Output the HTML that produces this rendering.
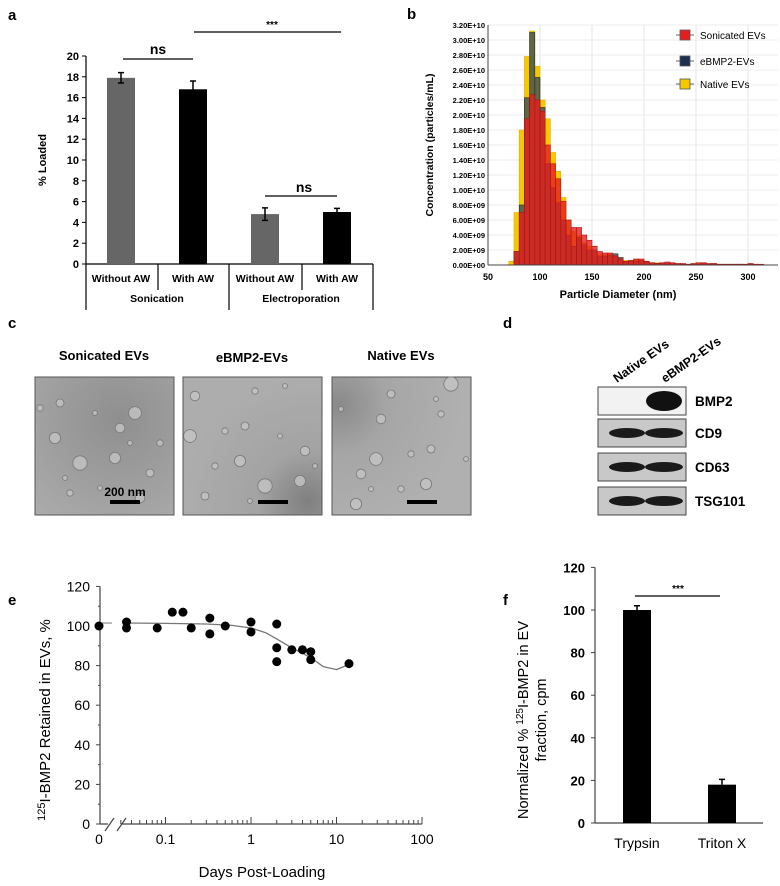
<!DOCTYPE html>
<html><head><meta charset="utf-8"><style>
body{margin:0;background:#fff;}
svg{display:block;font-family:"Liberation Sans",Arial,sans-serif;}
.b{font-weight:bold;}
</style></head><body>
<svg id="fig" width="780" height="886" viewBox="0 0 780 886">
<defs>
<radialGradient id="tem1" cx="0.6" cy="0.3" r="0.9"><stop offset="0" stop-color="#8f8f8f"/><stop offset="1" stop-color="#ababab"/></radialGradient>
<radialGradient id="tem2" cx="0.9" cy="0.9" r="0.9"><stop offset="0" stop-color="#7f7f7f"/><stop offset="0.4" stop-color="#a3a3a3"/><stop offset="1" stop-color="#adadad"/></radialGradient>
<radialGradient id="tem3" cx="0.05" cy="0.2" r="0.9"><stop offset="0" stop-color="#8a8a8a"/><stop offset="0.4" stop-color="#a6a6a6"/><stop offset="1" stop-color="#b0b0b0"/></radialGradient>
</defs>
<g id="pa"></g>
<g id="pb"></g>
<g id="pc"></g>
<g id="pd"></g>
<g id="pe"></g>
<g id="pf"></g>
</svg>
<script>
// ---- data ----
const aCategories = ["Without AW","With AW","Without AW","With AW"];
const aGroups = ["Sonication","Electroporation"];
const aValues = [17.9, 16.8, 4.8, 5.0];
const aErrors = [0.5, 0.8, 0.6, 0.35];
const aTicks = [0,2,4,6,8,10,12,14,16,18,20];

const bBins = [70,75,80,85,90,95,100,105,110,115,120,125,130,135,140,145,150,155,160,165,170,175,180,185,190,195,200,205,210,215,220,225,230,235,240,245,250,255,260,265,270,275,280,285,290,295,300,305,310];
const bNative = [0.5,7,18,27.8,31.2,26.5,22,19.5,15,12.5,9,6,4.5,4,3,2.5,1.8,1.5,1.4,1.5,1.2,0.8,0.6,0.6,0.7,0.6,0.5,0.3,0.3,0.2,0.2,0.2,0.2,0.1,0.1,0.1,0.2,0.2,0.1,0.2,0.1,0.1,0.1,0.1,0.1,0.1,0.1,0.1,0.1];
const bEbmp = [0,1.8,8,22.3,31,25,21,13.5,10.3,8.3,6,4,2.5,3.7,2.7,2,2,1.2,1.2,1.3,1.5,1,0.5,0.5,0.5,0.6,0.4,0.3,0.2,0.2,0.2,0.2,0.1,0.1,0.1,0.1,0.1,0.2,0.1,0.1,0.1,0.1,0.1,0.1,0.1,0.1,0.1,0.1,0];
const bSonic = [0,1.8,7,19.5,22.7,22,20.5,16,13.5,11.5,8.5,6,5,5,4,3.3,2.5,1.8,1.6,1.6,1.2,0.8,0.5,0.6,0.8,0.8,0.5,0.3,0.2,0.3,0.4,0.3,0.2,0.2,0.1,0.2,0.3,0.3,0.2,0.2,0.1,0.1,0.1,0.1,0.1,0.1,0.2,0.1,0.1];
const bYTicks = [0,2,4,6,8,10,12,14,16,18,20,22,24,26,28,30,32];
const bXTicks = [50,100,150,200,250,300];

const dLanes = ["Native EVs","eBMP2-EVs"];
const dBlots = ["BMP2","CD9","CD63","TSG101"];

const eDays = [0,0.035,0.035,0.08,0.12,0.16,0.2,0.33,0.33,0.5,1,1,2,2,2,3,4,5,5,14];
const eRetained = [100,102,99,99,107,107,99,104,96,100,102,97,101,89,82,88,88,87,83,81];
const eFitDays = [0.035,0.1,0.3,0.6,1,1.5,2,3,5,7,10,13];
const eFitVals = [101.5,101.3,101,100.3,99,96.5,93.5,89,84,79.5,78,80];
const eYTicks = [0,20,40,60,80,100,120];
const eXTicks = [0.1,1,10,100];

const fCategories = ["Trypsin","Triton X"];
const fValues = [100,18];
const fErrors = [2,2.5];
const fTicks = [0,20,40,60,80,100,120];

const NS="http://www.w3.org/2000/svg";
function mk(parent,tag,attrs,text){const e=document.createElementNS(NS,tag);for(const k in attrs)e.setAttribute(k,attrs[k]);if(text!==undefined)e.textContent=text;parent.appendChild(e);return e;}

// ---- panel a ----
(function(){
const g=document.getElementById('pa');
const y=v=>264-v*10.4;
const xs=[121,193,265,337];
let t=mk(g,'text',{x:8,y:20,'font-size':15,class:'b'},'a');

let ax=mk(g,'line',{x1:86,y1:y(20),x2:86,y2:264,stroke:'#000','stroke-width':1.2});

aTicks.forEach(v=>{mk(g,'line',{x1:82,x2:86,y1:y(v),y2:y(v),stroke:'#000'});
 const l=mk(g,'text',{x:79,y:y(v)+4,'text-anchor':'end','font-size':11,class:'b'},v);
 });
t=mk(g,'text',{transform:'translate(46,160) rotate(-90)','text-anchor':'middle','font-size':11,class:'b'},'% Loaded');

mk(g,'line',{x1:86,x2:373,y1:264,y2:264,stroke:'#000','stroke-width':1.2});
[[86,310],[158,290],[229,310],[302,290],[373,310]].forEach(s=>mk(g,'line',{x1:s[0],x2:s[0],y1:264,y2:s[1],stroke:'#000','stroke-width':1.2}));
aValues.forEach((v,i)=>{
 const r=mk(g,'rect',{x:xs[i]-14,y:y(v),width:28,height:264-y(v),fill:i%2?'#000':'#666'});
 
 const e=aErrors[i];
 mk(g,'path',{d:`M${xs[i]} ${y(v+e)}V${y(v-e)}M${xs[i]-3} ${y(v+e)}h6M${xs[i]-3} ${y(v-e)}h6`,stroke:'#000','stroke-width':1.5,fill:'none'});
 const l=mk(g,'text',{x:(xs[i]),y:282,'text-anchor':'middle','font-size':10.5,class:'b'},aCategories[i]);
 
});
aGroups.forEach((n,i)=>{const l=mk(g,'text',{x:i?301:157,y:302,'text-anchor':'middle','font-size':10.5,class:'b'},n);
 });
mk(g,'line',{x1:123,x2:193,y1:59,y2:59,stroke:'#000','stroke-width':1.3});
mk(g,'text',{x:158,y:54,'text-anchor':'middle','font-size':14,class:'b'},'ns');
mk(g,'line',{x1:194,x2:341,y1:32,y2:32,stroke:'#000','stroke-width':1.3});
mk(g,'text',{x:272,y:28,'text-anchor':'middle','font-size':10,class:'b'},'***');
mk(g,'line',{x1:265,x2:337,y1:196,y2:196,stroke:'#000','stroke-width':1.3});
mk(g,'text',{x:304,y:192,'text-anchor':'middle','font-size':14,class:'b'},'ns');
})();

// ---- panel b ----
(function(){
const g=document.getElementById('pb');
const x=v=>488+(v-50)*1.04;
const y=v=>265-v*7.5;
let t=mk(g,'text',{x:407,y:19,'font-size':15,class:'b'},'b');

bXTicks.forEach(v=>mk(g,'line',{x1:x(v),x2:x(v),y1:y(32),y2:265,stroke:'#e4e4e4'}));
bYTicks.forEach(v=>{mk(g,'line',{x1:488,x2:778,y1:y(v),y2:y(v),stroke:'#ececec'});
 const l=mk(g,'text',{x:485,y:y(v)+3,'text-anchor':'end','font-size':7.5,class:'b'},(v===0?'0.00E+00':(v<10?(v.toFixed(2)+'E+09'):((v/10).toFixed(2)+'E+10'))));
 });
function series(arr,fill,stroke,op,name){arr.forEach((v,i)=>{if(v<=0)return;
 const r=mk(g,'rect',{x:x(bBins[i]),y:y(v),width:5.2,height:265-y(v),fill:fill,stroke:stroke,'stroke-width':0.6,'fill-opacity':op});
 });}
series(bNative,'#f5c800','#e0b000',1,'native-bar');
series(bEbmp,'#3b4c52','#1f2a30',0.8,'ebmp2-bar');
series(bSonic,'#e41e1e','#b01010',0.8,'sonicated-bar');
mk(g,'line',{x1:488,x2:488,y1:y(32),y2:265,stroke:'#444'});
mk(g,'line',{x1:488,x2:778,y1:265,y2:265,stroke:'#444'});
bXTicks.forEach(v=>{const l=mk(g,'text',{x:x(v),y:280,'text-anchor':'middle','font-size':9,class:'b'},v);
 });
t=mk(g,'text',{x:618,y:298,'text-anchor':'middle','font-size':11,class:'b'},'Particle Diameter (nm)');

t=mk(g,'text',{transform:'translate(433,145) rotate(-90)','text-anchor':'middle','font-size':10.5,class:'b'},'Concentration (particles/mL)');

[['Sonicated EVs','#e41e1e',35],['eBMP2-EVs','#1f2f4f',61],['Native EVs','#f5c800',84]].forEach(L=>{
 mk(g,'line',{x1:676,x2:694,y1:L[2],y2:L[2],stroke:'#666'});
 const r=mk(g,'rect',{x:680,y:L[2]-5,width:10,height:10,fill:L[1],stroke:'#555','stroke-width':0.8});
 
 const l=mk(g,'text',{x:700,y:L[2]+4,'font-size':10},L[0]);
 });
})();

// ---- panel c ----
(function(){
const g=document.getElementById('pc');
let t=mk(g,'text',{x:8,y:328,'font-size':15,class:'b'},'c');

const imgs=[[35,'Sonicated EVs','tem1'],[183,'eBMP2-EVs','tem2'],[332,'Native EVs','tem3']];
const blobs=[[20,20,5],[95,30,8],[80,45,6],[120,60,4],[40,80,9],[75,75,7],[110,90,5],[30,110,4],[60,105,3],[100,115,6],[15,55,7],[130,25,4],[55,30,3],[90,60,3],[25,95,3]];
imgs.forEach((m,k)=>{
 const l=mk(g,'text',{x:m[0]+69,y:k==1?362:360,'text-anchor':'middle','font-size':13,class:'b'},m[1]);
 
 const r=mk(g,'rect',{x:m[0],y:377,width:139,height:138,fill:'url(#'+m[2]+')',stroke:'#555'});
 
 blobs.forEach((b,i)=>{const bx=m[0]+((b[0]+k*37)%130)+5, by=377+((b[1]+k*23)%125)+6;
  mk(g,'circle',{cx:bx,cy:by,r:b[2]*0.8,fill:'#c4c4c4',stroke:'#777','stroke-width':0.8,'fill-opacity':0.8});});
 const sb=mk(g,'rect',{x:m[0]+75,y:500,width:30,height:4,fill:'#000'});
 
});
mk(g,'text',{x:125,y:496,'text-anchor':'middle','font-size':12,class:'b'},'200 nm');
})();

// ---- panel d ----
(function(){
const g=document.getElementById('pd');
let t=mk(g,'text',{x:503,y:328,'font-size':15,class:'b'},'d');

dLanes.forEach((n,i)=>{const l=mk(g,'text',{transform:`translate(${617+i*48},383) rotate(-35)`,'font-size':12.5,class:'b'},n);
 });
const ys=[387,419,453,487];
dBlots.forEach((n,i)=>{
 const r=mk(g,'rect',{x:598,y:ys[i],width:88,height:28,fill:i?'#c8c8c8':'#f2f2f2',stroke:'#444'});
 
 if(i===0){mk(g,'ellipse',{cx:664,cy:ys[i]+14,rx:18,ry:10,fill:'#111'});}
 else{mk(g,'ellipse',{cx:627,cy:ys[i]+14,rx:18,ry:5,fill:'#1a1a1a'});mk(g,'ellipse',{cx:664,cy:ys[i]+14,rx:19,ry:5,fill:'#1a1a1a'});}
 const l=mk(g,'text',{x:695,y:ys[i]+19,'font-size':13.5,class:'b'},n);
 
});
})();

// ---- panel e ----
(function(){
const g=document.getElementById('pe');
const y=v=>824-v*1.98;
const x=d=>d===0?99:251+Math.log10(d)*85.5;
let t=mk(g,'text',{x:8,y:605,'font-size':15,class:'b'},'e');

mk(g,'line',{x1:100,x2:100,y1:y(120),y2:824,stroke:'#444','stroke-width':1.2});
eYTicks.forEach(v=>{mk(g,'line',{x1:96,x2:100,y1:y(v),y2:y(v),stroke:'#444'});
 if(v<120)mk(g,'line',{x1:98,x2:100,y1:y(v+10),y2:y(v+10),stroke:'#444'});
 const l=mk(g,'text',{x:90,y:y(v)+5,'text-anchor':'end','font-size':14},v);
 });
mk(g,'path',{d:'M100 824H108M121 824H422',stroke:'#444','stroke-width':1.2,fill:'none'});
mk(g,'path',{d:'M105 831L114 818M117 831L126 818',stroke:'#444','stroke-width':1.2});
for(let dec=-2;dec<2;dec++)for(let m=1;m<10;m++){const v=m*Math.pow(10,dec);if(v<0.03)continue;
 mk(g,'line',{x1:x(v),x2:x(v),y1:824,y2:m===1?817:820,stroke:'#444'});}
mk(g,'line',{x1:x(100),x2:x(100),y1:824,y2:817,stroke:'#444'});
[[0,'0']].concat(eXTicks.map(v=>[v,String(v)])).forEach(p=>{const l=mk(g,'text',{x:x(p[0]),y:844,'text-anchor':'middle','font-size':14},p[1]);
 });
t=mk(g,'text',{x:262,y:877,'text-anchor':'middle','font-size':15},'Days Post-Loading');

t=mk(g,'text',{transform:'translate(50,720) rotate(-90)','text-anchor':'middle','font-size':15});

mk(t,'tspan',{'font-size':11,dy:-5},'125');mk(t,'tspan',{dy:5},'I-BMP2 Retained in EVs, %');
mk(g,'line',{x1:100,x2:112,y1:y(eFitVals[0]),y2:y(eFitVals[0]),stroke:'#777'});
let d='';eFitDays.forEach((v,i)=>{d+=(i?'L':'M')+x(v).toFixed(1)+' '+y(eFitVals[i]).toFixed(1);});
const fit=mk(g,'path',{d:d,stroke:'#777','stroke-width':1.3,fill:'none','stroke-linejoin':'round'});

eDays.forEach((v,i)=>{const c=mk(g,'circle',{cx:x(v),cy:y(eRetained[i]),r:4.5,fill:'#000'});
 });
})();

// ---- panel f ----
(function(){
const g=document.getElementById('pf');
const y=v=>823-v*2.13;
const xs=[637,722];
let t=mk(g,'text',{x:503,y:605,'font-size':15,class:'b'},'f');

mk(g,'line',{x1:595,x2:595,y1:y(120),y2:823,stroke:'#444','stroke-width':1.2});
mk(g,'line',{x1:595,x2:763,y1:823,y2:823,stroke:'#444','stroke-width':1.2});
fTicks.forEach(v=>{mk(g,'line',{x1:591,x2:595,y1:y(v),y2:y(v),stroke:'#444'});
 const l=mk(g,'text',{x:585,y:y(v)+5,'text-anchor':'end','font-size':13,class:'b'},v);
 });
fValues.forEach((v,i)=>{const r=mk(g,'rect',{x:xs[i]-14,y:y(v),width:28,height:823-y(v),fill:'#000'});
 
 const e=fErrors[i];mk(g,'path',{d:`M${xs[i]} ${y(v)}V${y(v+e)}M${xs[i]-3} ${y(v+e)}h6`,stroke:'#000','stroke-width':1.5});
 const l=mk(g,'text',{x:xs[i],y:848,'text-anchor':'middle','font-size':14},fCategories[i]);
 });
mk(g,'line',{x1:635,x2:720,y1:596,y2:596,stroke:'#000','stroke-width':1.3});
mk(g,'text',{x:678,y:592,'text-anchor':'middle','font-size':10,class:'b'},'***');
t=mk(g,'text',{transform:'translate(528,720) rotate(-90)','text-anchor':'middle','font-size':14.5});

mk(t,'tspan',{},'Normalized % ');mk(t,'tspan',{'font-size':10,dy:-5},'125');mk(t,'tspan',{dy:5},'I-BMP2 in EV');
t=mk(g,'text',{transform:'translate(546,720) rotate(-90)','text-anchor':'middle','font-size':14.5},'fraction, cpm');

})();
</script>
</body></html>
